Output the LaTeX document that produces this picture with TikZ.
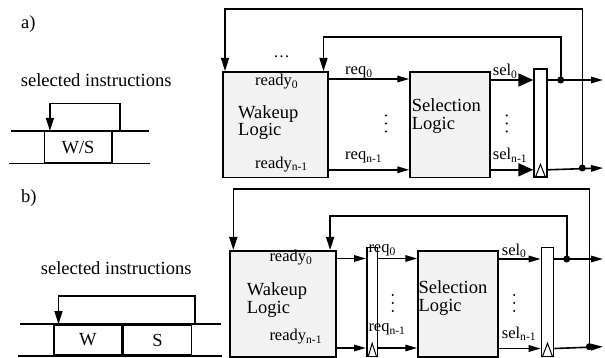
\documentclass[tikz,border=0pt]{standalone}
\usepackage{fontspec}
\setmainfont{Liberation Serif}
\usetikzlibrary{arrows.meta,positioning}

\tikzset{
  logic/.style={draw, line width=1.8pt, fill=black!5, minimum height=105.7pt, inner sep=0pt, anchor=north west},
  latch/.style={draw, line width=1.6pt, fill=white, inner sep=0pt, anchor=north west},
  stage/.style={draw, line width=1.6pt, inner sep=0pt, font=\fontsize{18.5}{18.5}\selectfont},
  wire/.style={line width=1.6pt},
  arr/.style={wire, -{Triangle[length=12pt,width=6.5pt]}},
  bigarr/.style={wire, -{Triangle[length=15pt,width=13pt]}},
  fbarr/.style={wire, -{Triangle[length=13pt,width=8pt]}},
  clk/.style={line width=1pt},
  dot/.style={circle, fill, inner sep=0pt, minimum size=7pt},
  txt/.style={font=\fontsize{18.5}{18.5}\selectfont, inner sep=0pt, anchor=base west},
  lbl/.style={font=\fontsize{16.5}{16.5}\selectfont, inner sep=0pt, anchor=base west},
}

\begin{document}
\begin{tikzpicture}[x=1pt,y=-1pt]
\useasboundingbox (0,0) rectangle (605,358);

%% a) wakeup and select in one cycle
\node[txt] (tagA) at (21,29) {a)};
\node[txt] (selA) at (20.7,87) {selected instructions};
\node[stage, minimum width=67.4pt, minimum height=31pt] (ws) at (78,147.2) {W/S};
\draw[wire] ([xshift=-32.6pt]ws.north west) -- ([xshift=36.3pt]ws.north east);
\draw[wire] ([xshift=-34.3pt]ws.south west) -- ([xshift=37.3pt]ws.south east);
\draw[fbarr] ([xshift=7.3pt]ws.north east) -- ++(0,-27.4) -| ([xshift=6.4pt]ws.north west);

\node[logic, minimum width=105pt] (wa) at (222.3,71) {};
\node[txt] (waT1) at (238,118.5) {Wakeup};
\node[txt] (waT2) at (238,136) {Logic};
\node[lbl] (rdA0) at (255,85.5) {ready\textsubscript{0}};
\node[lbl] (rdAn) at (255,168.3) {ready\textsubscript{n-1}};
\node[lbl, anchor=center] (dotsA) at (281.7,57) {\dots};

\node[logic, minimum width=79.7pt] (sa) at (409.3,71) {};
\node[txt] (saT1) at (411.7,111.7) {Selection};
\node[txt] (saT2) at (411.7,130) {Logic};

\node[latch, minimum width=12.7pt, minimum height=107.7pt] (ra) at (533.3,68.3) {};
\draw[clk] ([xshift=2pt]ra.south west) -- ([yshift=13.3pt]ra.south) -- ([xshift=-2pt]ra.south east);

\coordinate (qa0) at ([yshift=-8pt]wa.north east);
\coordinate (qan) at ([yshift=8.7pt]wa.south east);
\draw[arr] (qa0) -- (qa0 -| sa.west);
\draw[arr] (qan) -- (qan -| sa.west);
\node[lbl] (rqA0) at (345,75) {req\textsubscript{0}};
\node[lbl] (rqAn) at (345,160) {req\textsubscript{n-1}};

\coordinate (sa0) at ([yshift=-9pt]sa.north east);
\coordinate (san) at ([yshift=8.7pt]sa.south east);
\draw[bigarr] (sa0) -- (sa0 -| ra.west);
\draw[bigarr] (san) -- (san -| ra.west);
\node[lbl] (slA0) at (492.7,75.5) {sel\textsubscript{0}};
\node[lbl] (slAn) at (492.7,160) {sel\textsubscript{n-1}};

% vertical dots between the lines
\foreach \x/\y in {386/123.5, 506.7/123.5, 392.7/303, 514.3/303}
  \foreach \d in {-8,0,8}
    \fill (\x,\y+\d) circle (1.1pt);

\coordinate (oa0) at (603,80);
\coordinate (oan) at (603,168);
\draw[arr] (sa0 -| ra.east) -- (oa0);
\draw[arr] (san -| ra.east) -- (oan);
\node[dot] (ja) at (560.7,80) {};
\node[dot] (jb) at (582.3,168) {};
\draw[fbarr] (jb.center) -- ++(0,-158.7) -| ([xshift=2.7pt]wa.north west);
\draw[fbarr] (ja.center) -- ++(0,-42.7) -| ([xshift=-5.6pt]wa.north east);

%% b) wakeup and select pipelined
\node[txt] (tagB) at (21,202.3) {b)};
\node[txt] (selB) at (40.7,274) {selected instructions};
\node[stage, minimum width=67.7pt, minimum height=30pt] (w) at (87.85,340) {W};
\node[stage, minimum width=68.3pt, minimum height=30pt, right=0pt of w] (s) {S};
\draw[wire] ([xshift=-33.3pt]w.north west) -- ([xshift=28.3pt]s.north east);
\draw[wire] ([xshift=-35pt]w.south west) -- ([xshift=30pt]s.south east);
\draw[fbarr] ([xshift=2.7pt]s.north east) -- ++(0,-28.3) -| ([xshift=5.3pt]w.north west);

\node[logic, minimum width=106pt] (wb) at (229,250) {};
\node[txt] (wbT1) at (246.7,295.5) {Wakeup};
\node[txt] (wbT2) at (246.7,313) {Logic};
\node[lbl] (rdB0) at (269.3,261.7) {ready\textsubscript{0}};
\node[lbl] (rdBn) at (269.3,340.7) {ready\textsubscript{n-1}};

\node[latch, minimum width=10.7pt, minimum height=109pt] (r1) at (366,246.7) {};
\draw[clk] ([xshift=2pt]r1.south west) -- ([yshift=14pt]r1.south) -- ([xshift=-1.5pt]r1.south east);

\node[logic, minimum width=79.4pt] (sb) at (417.3,250) {};
\node[txt] (sbT1) at (418.3,293.3) {Selection};
\node[txt] (sbT2) at (418.3,311) {Logic};

\node[latch, minimum width=12pt, minimum height=109pt] (r2) at (540.7,246.7) {};
\draw[clk] ([xshift=1.5pt]r2.south west) -- ([yshift=14pt]r2.south) -- ([xshift=-1.5pt]r2.south east);

\coordinate (qb0) at ([yshift=-8.5pt]wb.north east);
\coordinate (qbn) at ([yshift=9.5pt]wb.south east);
\draw[arr] (qb0) -- (qb0 -| r1.west);
\draw[arr] (qbn) -- (qbn -| r1.west);
\draw[arr] (qb0 -| r1.east) -- (qb0 -| sb.west);
\draw[arr] (qbn -| r1.east) -- (qbn -| sb.west);
\node[lbl] (rqB0) at (368.3,252.7) {req\textsubscript{0}};
\node[lbl] (rqBn) at (368.3,331.7) {req\textsubscript{n-1}};

\coordinate (sb0) at ([yshift=-9pt]sb.north east);
\coordinate (sbn) at ([yshift=9pt]sb.south east);
\draw[arr] (sb0) -- (sb0 -| r2.west);
\draw[arr] (sbn) -- (sbn -| r2.west);
\node[lbl] (slB0) at (501.7,255) {sel\textsubscript{0}};
\node[lbl] (slBn) at (501.7,338.3) {sel\textsubscript{n-1}};

\coordinate (ob0) at (603,259);
\coordinate (obn) at (603,346.7);
\draw[arr] (sb0 -| r2.east) -- (ob0);
\draw[arr] (sbn -| r2.east) -- (obn);
\node[dot] (jc) at (566.7,259) {};
\node[dot] (jd) at (589.3,346.7) {};
\draw[fbarr] (jd.center) -- ++(0,-157.4) -| ([xshift=4.3pt]wb.north west);
\draw[fbarr] (jc.center) -- ++(0,-43) -| ([xshift=-6.7pt]wb.north east);
\end{tikzpicture}
\end{document}
